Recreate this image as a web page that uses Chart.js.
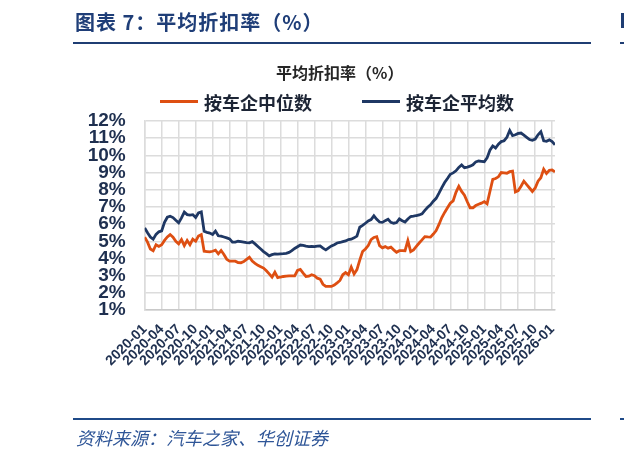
<!DOCTYPE html>
<html>
<head>
<meta charset="utf-8">
<script src="https://cdn.jsdelivr.net/npm/chart.js@4.4.1/dist/chart.umd.min.js"></script>
<style>
  html,body{margin:0;padding:0;background:#fff;}
  #wrap{position:relative;width:624px;height:457px;overflow:hidden;background:#fff;}
  #cv{position:absolute;left:0;top:0;}
  .abs{position:absolute;white-space:nowrap;}
  #mainTitle{left:75px;top:7px;font:bold 20px "Noto Sans CJK SC",sans-serif;color:#1f3e78;letter-spacing:1px;}
  #chartTitle{left:276px;top:60px;font:bold 16px "Noto Sans CJK SC",sans-serif;color:#262626;}
  .lg{top:89px;font:bold 18px "Noto Sans CJK SC",sans-serif;color:#1d2535;}
  .sw{position:absolute;height:3px;top:100px;}
  #source{left:76px;top:424px;font:italic 18px "Noto Sans CJK SC",sans-serif;color:#2e5597;}
</style>
</head>
<body>
<div id="wrap">
  <canvas id="cv" width="624" height="457"></canvas>
  <div class="abs" id="mainTitle">图表 7：平均折扣率（%）</div>
  <div class="abs" style="left:73px;top:42px;width:518px;height:2px;background:#1f3d73;"></div>
  <div class="abs" style="left:620px;top:42px;width:4px;height:2px;background:#1f3d73;"></div>
  <div class="abs" style="left:621px;top:13px;width:3px;height:15px;background:#1f3d73;"></div>
  <div class="abs" id="chartTitle">平均折扣率（%）</div>
  <div class="sw" id="sw1" style="left:160px;width:38px;background:#de4f12;"></div>
  <div class="abs lg" id="lg1" style="left:204px;">按车企中位数</div>
  <div class="sw" id="sw2" style="left:362px;width:38px;background:#1f3864;"></div>
  <div class="abs lg" id="lg2" style="left:406px;">按车企平均数</div>
  <div class="abs" style="left:73px;top:418px;width:518px;height:2px;background:#1f4a88;"></div>
  <div class="abs" style="left:620px;top:418px;width:4px;height:2px;background:#1f4a88;"></div>
  <div class="abs" id="source">资料来源：汽车之家、华创证券</div>
</div>
<script>
// Semi-monthly observations starting 2020-01 (two per month)
const seriesNames = ['按车企中位数', '按车企平均数'];
const tickLabels = ['2020-01','2020-04','2020-07','2020-10','2021-01','2021-04','2021-07','2021-10',
  '2022-01','2022-04','2022-07','2022-10','2023-01','2023-04','2023-07','2023-10',
  '2024-01','2024-04','2024-07','2024-10','2025-01','2025-04','2025-07','2025-10','2026-01'];
const medianVals = [
  5.24,4.95,4.55,4.45,4.8,4.7,4.8,5.05,5.25,5.39,5.24,5.0,
  4.85,5.1,4.75,5.05,4.8,5.12,5.0,5.3,5.39,4.42,4.4,4.38,
  4.42,4.48,4.27,4.46,4.23,3.95,3.84,3.84,3.84,3.76,3.75,3.82,
  3.95,4.07,3.85,3.72,3.6,3.52,3.44,3.28,3.1,2.91,3.2,2.88,
  2.92,2.95,2.97,2.99,2.99,2.99,3.3,3.36,3.15,2.95,2.97,3.05,
  3.0,2.85,2.8,2.5,2.37,2.37,2.37,2.45,2.58,2.72,3.05,3.18,
  3.05,3.5,3.1,3.35,3.9,4.4,4.55,4.75,5.1,5.22,5.27,4.75,
  4.62,4.69,4.6,4.66,4.5,4.36,4.45,4.46,4.45,5.04,4.4,4.5,
  4.7,4.9,5.08,5.27,5.25,5.24,5.42,5.62,5.98,6.38,6.68,6.95,
  7.21,7.35,7.85,8.2,7.9,7.68,7.3,6.95,6.95,7.08,7.15,7.22,
  7.31,7.18,7.9,8.6,8.65,8.75,9.0,8.98,8.96,9.05,9.08,7.87,
  7.95,8.2,8.5,8.3,8.1,7.9,8.1,8.5,8.7,9.2,8.95,9.13,
  9.15,9.04
];
const averageVals = [
  5.78,5.5,5.25,5.12,5.4,5.55,5.6,6.1,6.4,6.46,6.38,6.22,
  6.07,6.36,6.7,6.55,6.52,6.55,6.38,6.65,6.71,5.58,5.52,5.48,
  5.4,5.59,5.32,5.30,5.25,5.2,5.14,4.95,4.95,5.0,4.98,4.95,
  4.92,4.91,4.98,4.85,4.7,4.55,4.4,4.28,4.15,4.22,4.27,4.25,
  4.27,4.28,4.3,4.35,4.45,4.58,4.68,4.78,4.76,4.72,4.69,4.7,
  4.69,4.72,4.73,4.6,4.5,4.62,4.73,4.8,4.9,4.93,4.98,5.02,
  5.1,5.12,5.2,5.3,5.82,5.92,6.05,6.18,6.26,6.48,6.28,6.12,
  6.1,6.2,6.28,6.1,6.05,6.09,6.3,6.2,6.12,6.3,6.44,6.46,
  6.5,6.53,6.6,6.8,6.98,7.12,7.33,7.5,7.8,8.12,8.42,8.65,
  8.9,8.98,9.1,9.3,9.44,9.28,9.32,9.37,9.45,9.62,9.67,9.65,
  9.63,9.85,10.3,10.55,10.43,10.65,10.8,10.85,11.05,11.45,11.15,11.2,
  11.28,11.3,11.18,11.05,10.92,10.88,10.95,11.2,11.38,10.85,10.82,10.9,
  10.8,10.62
];
const stepMonths = 0.5;   // one observation every half month
const tickStepMonths = 3; // one tick label per quarter

const toPoints = arr => arr.map((v, i) => ({ x: i * stepMonths, y: v }));
const axisColor = '#1f3050';
const gridColor = '#dcdcdc';

new Chart(document.getElementById('cv'), {
  type: 'line',
  data: {
    datasets: [
      { label: seriesNames[0], data: toPoints(medianVals), borderColor: '#de4f12', backgroundColor: '#de4f12',
        borderWidth: 2.8, pointRadius: 0, tension: 0, order: 2 },
      { label: seriesNames[1], data: toPoints(averageVals), borderColor: '#1f3864', backgroundColor: '#1f3864',
        borderWidth: 2.8, pointRadius: 0, tension: 0, order: 1 }
    ]
  },
  options: {
    responsive: false,
    animation: false,
    devicePixelRatio: 1,
    layout: { padding: { left: 0, top: 121, right: 69, bottom: 77 } },
    plugins: { legend: { display: false }, title: { display: false }, tooltip: { enabled: false } },
    scales: {
      x: {
        type: 'linear',
        min: 0,
        max: (medianVals.length - 1) * stepMonths,
        afterFit: s => { s.height = 70; },
        ticks: {
          stepSize: tickStepMonths, includeBounds: false, autoSkip: false,
          minRotation: 45, maxRotation: 45, padding: 11,
          color: axisColor, font: { family: 'Liberation Sans, Arial, sans-serif', size: 14, weight: 'bold' },
          callback: v => tickLabels[Math.round(v / tickStepMonths)] ?? ''
        },
        grid: { color: gridColor, lineWidth: 1.5, drawTicks: false },
        border: { color: '#c9c9c9', width: 1.5 }
      },
      y: {
        min: 1, max: 12,
        afterFit: s => { s.width = 144.7; },
        ticks: {
          stepSize: 1, padding: 19, autoSkip: false, color: axisColor,
          font: { family: 'Liberation Sans, Arial, sans-serif', size: 19, weight: 'bold' },
          callback: v => v + '%'
        },
        grid: { color: gridColor, lineWidth: 1.5, drawTicks: false },
        border: { color: gridColor, width: 1.5 }
      }
    }
  }
});
</script>
</body>
</html>
